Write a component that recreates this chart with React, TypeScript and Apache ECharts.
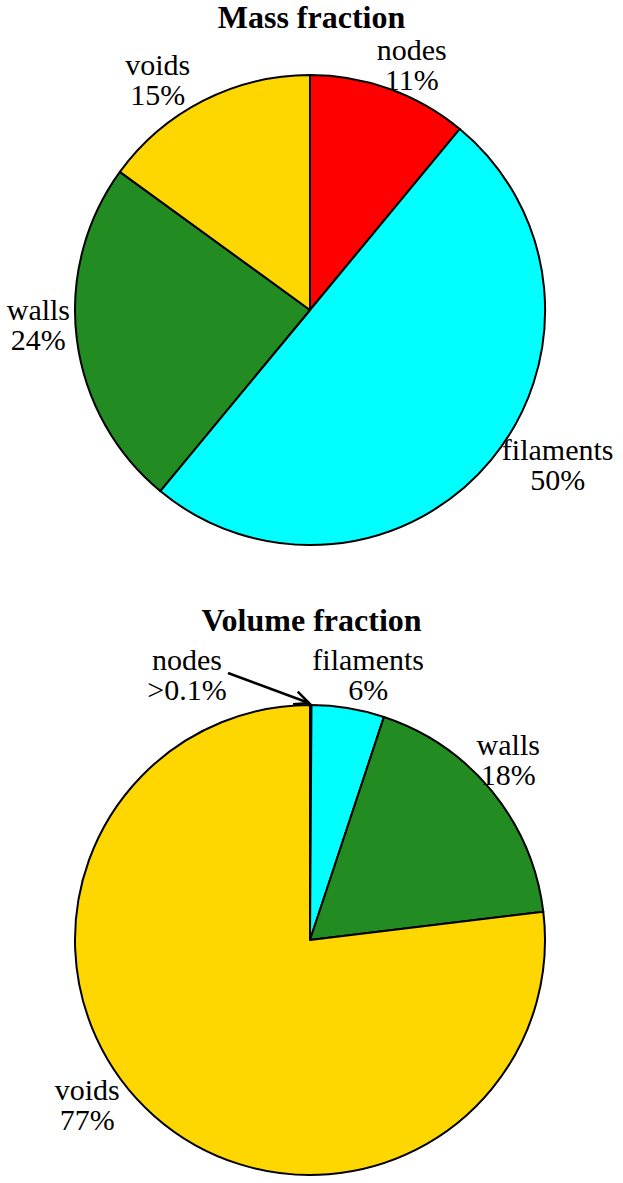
import React, { useEffect, useRef } from "react";
import * as echarts from "echarts";

// ---- data ----
const categories = ["nodes", "filaments", "walls", "voids"];
const massValues = [11, 50, 24, 15];
const massLabels = ["11%", "50%", "24%", "15%"];
const volumeValues = [0.1, 5, 18, 77];
const volumeLabels = [">0.1%", "6%", "18%", "77%"];
const titles = ["Mass fraction", "Volume fraction"];

// ---- style ----
const COLORS = ["#FF0000", "#00FFFF", "#228B22", "#FFD700"];
const FONT = "Liberation Serif";
const RADIUS = 235;
const CENTERS: [number, number][] = [
  [310, 310],
  [310, 940],
];
// label placement: [angle shift from slice mid-angle (deg), distance from centre (px)]
const MASS_LABEL_POS: [number, number][] = [
  [2.7, 266],
  [-7.6, 292],
  [4.2, 272],
  [-6.5, 276],
];
const VOLUME_LABEL_POS: [number, number][] = [
  [-25, 293],
  [3, 272],
  [-3, 268],
  [12, 277],
];

function midAngles(values: number[]): number[] {
  const total = values.reduce((a, b) => a + b, 0);
  let acc = 0;
  return values.map((v) => {
    const m = ((acc + v / 2) / total) * 360;
    acc += v;
    return m;
  });
}

function makeSeries(
  values: number[],
  labels: string[],
  center: [number, number],
  pos: [number, number][]
) {
  const mids = midAngles(values);
  return {
    type: "pie",
    center,
    radius: RADIUS,
    startAngle: 90,
    clockwise: true,
    minAngle: 0,
    avoidLabelOverlap: false,
    silent: true,
    data: categories.map((c, i) => ({
      name: c,
      value: values[i],
      itemStyle: { color: COLORS[i] },
    })),
    itemStyle: { borderColor: "#000", borderWidth: 2 },
    label: {
      show: true,
      position: "outside",
      formatter: (p: any) => `${p.name}\n${labels[p.dataIndex]}`,
      fontFamily: FONT,
      fontSize: 30,
      lineHeight: 30,
      color: "#000",
      align: "center",
    },
    labelLine: { show: false },
    labelLayout: (p: any) => {
      const i = p.dataIndex;
      const ang = ((mids[i] + pos[i][0]) * Math.PI) / 180;
      const r = pos[i][1];
      return {
        x: center[0] + r * Math.sin(ang),
        y: center[1] - r * Math.cos(ang),
        align: "center",
        verticalAlign: "middle",
      };
    },
  };
}

export default function App() {
  const ref = useRef<HTMLDivElement>(null);
  useEffect(() => {
    if (!ref.current) return;
    const chart = echarts.init(ref.current, undefined, { renderer: "svg" });
    // arrow for the tiny "nodes" slice
    const tip: [number, number] = [CENTERS[1][0] - 1, CENTERS[1][1] - RADIUS - 2];
    const tail: [number, number] = [228, 673];
    const dx = tip[0] - tail[0];
    const dy = tip[1] - tail[1];
    const len = Math.hypot(dx, dy);
    const ux = -dx / len;
    const uy = -dy / len;
    const wing = 16;
    const a = (25 * Math.PI) / 180;
    const w1 = [
      tip[0] + wing * (ux * Math.cos(a) - uy * Math.sin(a)),
      tip[1] + wing * (ux * Math.sin(a) + uy * Math.cos(a)),
    ];
    const w2 = [
      tip[0] + wing * (ux * Math.cos(-a) - uy * Math.sin(-a)),
      tip[1] + wing * (ux * Math.sin(-a) + uy * Math.cos(-a)),
    ];
    const titleStyle = {
      fontFamily: FONT,
      fontSize: 32,
      fontWeight: "bold",
      color: "#000",
      lineHeight: 34,
    };
    chart.setOption({
      animation: false,
      backgroundColor: "#ffffff",
      title: [
        { text: titles[0], left: "center", top: 0, padding: 0, textStyle: titleStyle },
        { text: titles[1], left: "center", top: 603, padding: 0, textStyle: titleStyle },
      ],
      series: [
        makeSeries(massValues, massLabels, CENTERS[0], MASS_LABEL_POS),
        makeSeries(volumeValues, volumeLabels, CENTERS[1], VOLUME_LABEL_POS),
      ],
      graphic: [
        {
          type: "line",
          shape: { x1: tail[0], y1: tail[1], x2: tip[0], y2: tip[1] },
          style: { stroke: "#000", lineWidth: 2.5 },
          z: 100,
        },
        {
          type: "polyline",
          shape: { points: [w1, tip, w2] },
          style: { stroke: "#000", lineWidth: 2.5, fill: null },
          z: 100,
        },
      ],
    });
    return () => chart.dispose();
  }, []);
  return (
    <div
      ref={ref}
      style={{ position: "absolute", left: 0, top: 0, width: 623, height: 1183 }}
    />
  );
}
